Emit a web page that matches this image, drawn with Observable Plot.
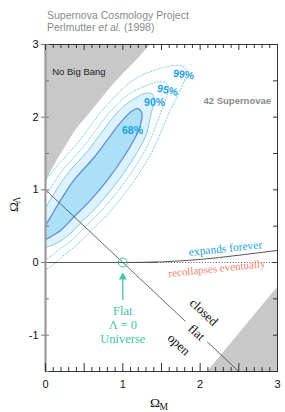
<!DOCTYPE html>
<html><head><meta charset="utf-8">
<script src="https://cdn.jsdelivr.net/npm/d3@7"></script>
<script src="https://cdn.jsdelivr.net/npm/@observablehq/plot@0.6"></script>
<style>
body{margin:0;background:#fff;}
#wrap{position:relative;width:285px;height:412px;overflow:hidden;}
#title{position:absolute;left:47px;top:10px;font-family:"Liberation Sans",Arial,sans-serif;font-size:10.5px;line-height:11.5px;color:#8a8a8a;white-space:nowrap;}
</style></head>
<body><div id="wrap"></div>
<script>
// ---- data ----
const titleLines = ["Supernova Cosmology Project", "Perlmutter", "et al.", "(1998)"];
// "No Big Bang" boundary (Omega_M, Omega_Lambda)
const noBigBangM = [0, 0.01, 0.05, 0.107, 0.236, 0.366, 0.58, 0.80, 1.01, 1.185, 1.36];
const noBigBangL = [1.0, 1.09, 1.2, 1.32, 1.55, 1.78, 2.06, 2.35, 2.60, 2.79, 3.0];
// lower-right shaded wedge
const wedgeM = [2.1, 3.0];
const wedgeL = [-1.5, -0.345];
// confidence contours [Omega_M, Omega_Lambda]
const contour68 = [[0,0.510],[0.065,0.625],[0.194,0.855],[0.366,1.131],[0.633,1.452],[0.797,1.683],[0.943,1.890],[1.098,2.069],[1.189,2.117],[1.247,2.055],[1.214,1.848],[1.141,1.683],[1.012,1.452],[0.797,1.131],[0.581,0.855],[0.366,0.625],[0.194,0.441],[0.022,0.327],[0,0.313]];
const contour90 = [[0,0.752],[0.102,0.932],[0.274,1.208],[0.541,1.530],[0.705,1.760],[0.851,1.967],[1.006,2.146],[1.163,2.262],[1.292,2.331],[1.382,2.317],[1.408,2.234],[1.370,2.069],[1.306,1.771],[1.233,1.606],[1.103,1.375],[0.889,1.054],[0.673,0.778],[0.457,0.548],[0.286,0.364],[0.114,0.250],[0,0.207]];
const contour95 = [[0,0.928],[0.041,0.983],[0.213,1.259],[0.481,1.581],[0.645,1.811],[0.791,2.018],[0.946,2.197],[1.098,2.331],[1.292,2.428],[1.460,2.483],[1.563,2.469],[1.589,2.372],[1.525,2.166],[1.367,1.720],[1.293,1.554],[1.164,1.324],[0.950,1.003],[0.734,0.727],[0.518,0.497],[0.346,0.313],[0.174,0.179],[0.065,0.083],[0,0.041]];
const contour99 = [[0,1.127],[0.142,1.319],[0.410,1.640],[0.574,1.870],[0.720,2.077],[0.875,2.257],[1.034,2.428],[1.227,2.566],[1.421,2.648],[1.615,2.703],[1.770,2.703],[1.822,2.621],[1.744,2.372],[1.615,2.097],[1.438,1.661],[1.364,1.495],[1.235,1.265],[1.021,0.943],[0.805,0.668],[0.589,0.437],[0.417,0.254],[0.220,0.083],[0.090,-0.041],[0,-0.097]];
const contourLabels = [
  {text: "68%", m: 1.125, l: 1.816, rot: 0},
  {text: "90%", m: 1.41, l: 2.20, rot: 0},
  {text: "95%", m: 1.578, l: 2.367, rot: 12},
  {text: "99%", m: 1.785, l: 2.587, rot: 8}
];
// flat-universe line (broken around the word "flat")
const flatSegments = [{m1: 0, l1: 1, m2: 1.81, l2: -0.81}, {m1: 2.09, l1: -1.09, m2: 2.5, l2: -1.5}];
// expands / recollapses boundary
const expandM = [1.0, 1.5, 2.0, 2.5, 3.0];
const expandL = [0.0, 0.009, 0.042, 0.10, 0.166];
const zeroSolid = [0, 1.45];
const zeroDotted = [1.45, 3];
// region words
const regionWords = [
  {text: "closed", m: 2.047, l: -0.684},
  {text: "flat", m: 1.953, l: -0.963},
  {text: "open", m: 1.724, l: -1.128}
];
const flatUniverse = {text: "Flat\nΛ = 0\nUniverse", m: 1.0, l: -0.853};
const arrowShaft = [{m: 1, l1: -0.523, l2: -0.19}];
const arrowTip = [{m: 1, l: -0.138}];
const circlePoint = [{m: 1, l: 0}];
// ticks
const xLabels = [0, 1, 2, 3];
const yLabels = [3, 2, 1, 0, -1];
const xMajor = [0, 0.5, 1, 1.5, 2, 2.5, 3];
const xMinor = [0.1,0.2,0.3,0.4,0.6,0.7,0.8,0.9,1.1,1.2,1.3,1.4,1.6,1.7,1.8,1.9,2.1,2.2,2.3,2.4,2.6,2.7,2.8,2.9];
const yHalf = [-1.5, -1, -0.5, 0, 0.5, 1, 1.5, 2, 2.5, 3];

// ---- layout & styles ----
const W = 285, H = 412, ML = 45, MR = 8, MT = 44, MB = 41;
const FW = W - ML - MR, FH = H - MT - MB;
const YMIN = -1.5, YMAX = 3;
const PXY = (YMAX - YMIN) / FH; // data units per pixel along y
const GRAY = "#c8c8c8";
const BLUE = "#1aa1e6";
const TEAL = "#46c3a7";
const SALMON = "#f3826c";
const TICK = "#333";
const SERIF = "'Liberation Serif','Times New Roman',serif";

const nbb = noBigBangM.map((m, i) => ({m, l: noBigBangL[i]}));
const wedge = wedgeM.map((m, i) => ({m, l: wedgeL[i]}));
const expandCurve = expandM.map((m, i) => ({m, l: expandL[i]}));

const chart = Plot.plot({
  width: W, height: H,
  marginLeft: ML, marginRight: MR, marginTop: MT, marginBottom: MB,
  x: {domain: [0, 3], axis: null},
  y: {domain: [YMIN, YMAX], axis: null},
  style: {fontFamily: "'Liberation Sans',Arial,sans-serif", fontSize: "11px", background: "white", color: "#222", overflow: "visible"},
  marks: [
    Plot.areaY(nbb, {x: "m", y1: "l", y2: 3, fill: GRAY, curve: "monotone-x"}),
    Plot.areaY(wedge, {x: "m", y1: -1.5, y2: "l", fill: GRAY}),
    Plot.line(contour99, {x: d => d[0], y: d => d[1], stroke: "#6cc4ee", strokeWidth: 0.9, strokeDasharray: "1.2,1.8", curve: "catmull-rom"}),
    Plot.line(contour95, {x: d => d[0], y: d => d[1], stroke: "#6cc4ee", strokeWidth: 0.9, strokeDasharray: "1.2,1.8", curve: "catmull-rom"}),
    Plot.line(contour90, {x: d => d[0], y: d => d[1], fill: "#ddf2fc", stroke: "#7ccaf0", strokeWidth: 1, curve: "catmull-rom"}),
    Plot.line(contour68, {x: d => d[0], y: d => d[1], fill: "#ace0f7", stroke: "#5f8fd6", strokeWidth: 1.3, curve: "catmull-rom"}),
    Plot.text(contourLabels, {x: "m", y: "l", text: "text", rotate: "rot", fill: BLUE, fontSize: 10.5, fontWeight: 600}),
    // lines
    Plot.link(flatSegments, {x1: "m1", y1: "l1", x2: "m2", y2: "l2", stroke: "#444", strokeWidth: 0.8}),
    Plot.ruleY([0], {x1: zeroSolid[0], x2: zeroSolid[1], stroke: "#555", strokeWidth: 1}),
    Plot.ruleY([0], {x1: zeroDotted[0], x2: zeroDotted[1], stroke: "#555", strokeWidth: 1, strokeDasharray: "1,1.8"}),
    Plot.line(expandCurve, {x: "m", y: "l", stroke: "#555", strokeWidth: 1, curve: "natural"}),
    // flat universe marker
    Plot.dot(circlePoint, {x: "m", y: "l", r: 4.5, stroke: TEAL, fill: "none", strokeWidth: 1}),
    Plot.ruleX(arrowShaft, {x: "m", y1: "l1", y2: "l2", stroke: TEAL, strokeWidth: 1.3}),
    Plot.dot(arrowTip, {x: "m", y: "l", symbol: "triangle", r: 3, fill: TEAL, stroke: "none", dy: 4.7}),
    Plot.text([flatUniverse], {x: "m", y: "l", text: "text", fill: TEAL, fontFamily: SERIF, fontSize: 12.5, lineHeight: 1.1, lineAnchor: "middle"}),
    // words
    Plot.text(["No Big Bang"], {x: 0.087, y: 2.587, text: d => d, textAnchor: "start", lineAnchor: "bottom", fontSize: 9.5, fill: "#222"}),
    Plot.text(["42 Supernovae"], {x: 2.043, y: 2.188, text: d => d, textAnchor: "start", lineAnchor: "bottom", fontSize: 9.5, fontWeight: "bold", fill: "#8a8a8a"}),
    Plot.text(["expands forever"], {x: 2.326, y: 0.193, text: d => d, rotate: -6, fill: BLUE, fontFamily: SERIF, fontSize: 11.5}),
    Plot.text(["recollapses eventually"], {x: 2.216, y: -0.083, text: d => d, rotate: -6, fill: SALMON, fontFamily: SERIF, fontSize: 11}),
    Plot.text(regionWords, {x: "m", y: "l", text: "text", rotate: 43, fill: "#111", fontFamily: SERIF, fontSize: 13}),
    // frame & ticks
    Plot.frame({stroke: "#333", strokeWidth: 1}),
    Plot.ruleX([0], {stroke: "#9a9a9a", strokeWidth: 2.2}),
    Plot.ruleX(xMinor, {x: d => d, y1: YMIN, y2: YMIN + 4 * PXY, stroke: TICK}),
    Plot.ruleX(xMajor, {x: d => d, y1: YMIN, y2: YMIN + 8 * PXY, stroke: TICK}),
    Plot.ruleX(xMinor, {x: d => d, y1: YMAX, y2: YMAX - 4 * PXY, stroke: TICK}),
    Plot.ruleX(xMajor, {x: d => d, y1: YMAX, y2: YMAX - 6 * PXY, stroke: TICK}),
    Plot.tickY(yHalf, {y: d => d, insetLeft: FW - 4, stroke: TICK}),
    Plot.tickY(yHalf, {y: d => d, insetRight: FW - 3, dx: 1, stroke: "#777"}),
    Plot.tickY(yLabels, {y: d => d, insetRight: FW - 4, dx: -4, stroke: "#777"}),
    Plot.axisX(xLabels, {anchor: "bottom", tickSize: 0, tickPadding: 9, label: null, fontSize: 11, fill: "#111"}),
    Plot.axisY(yLabels, {anchor: "left", tickSize: 0, tickPadding: 7, label: null, fontSize: 11, fill: "#111", tickFormat: d => d < 0 ? "-" + Math.abs(d) : String(d)}),
    // axis titles
    Plot.text(["Ω"], {text: d => d, frameAnchor: "top-left", dx: 104.5, dy: 362, fontFamily: SERIF, fontSize: 13.5, lineAnchor: "bottom", fill: "#111"}),
    Plot.text(["M"], {text: d => d, frameAnchor: "top-left", dx: 114, dy: 365, fontFamily: SERIF, fontSize: 9.5, lineAnchor: "bottom", fill: "#111"}),
    Plot.text(["Ω"], {text: d => d, frameAnchor: "top-left", dx: -28, dy: 167.5, rotate: -90, fontFamily: SERIF, fontSize: 13.5, lineAnchor: "bottom", fill: "#111"}),
    Plot.text(["Λ"], {text: d => d, frameAnchor: "top-left", dx: -25.5, dy: 159, rotate: -90, fontFamily: SERIF, fontSize: 9.5, lineAnchor: "bottom", fill: "#111"})
  ]
});

const wrap = document.getElementById("wrap");
wrap.appendChild(chart);
const title = document.createElement("div");
title.id = "title";
title.innerHTML = titleLines[0] + "<br>" + titleLines[1] + " <i>" + titleLines[2] + "</i> " + titleLines[3];
wrap.appendChild(title);
</script>
</body></html>
